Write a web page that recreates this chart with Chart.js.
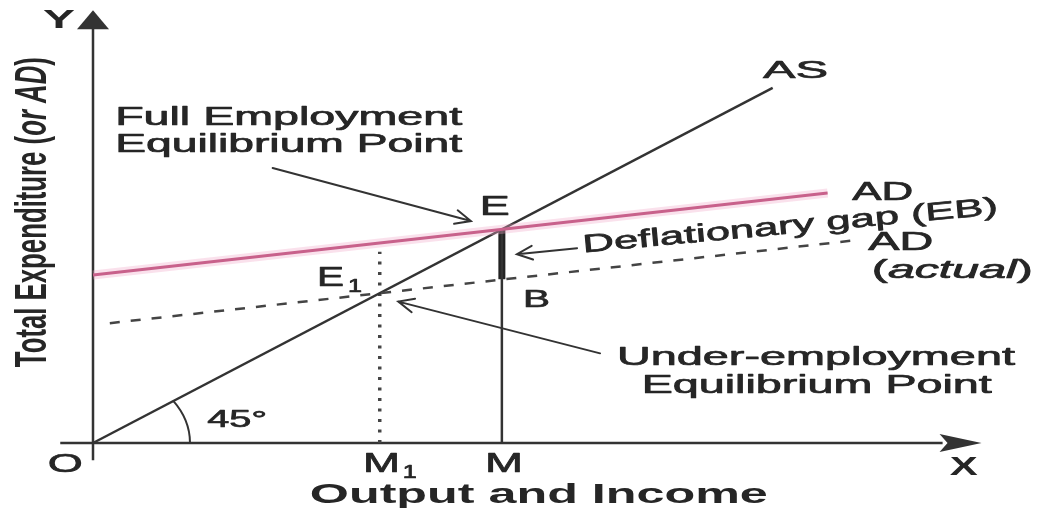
<!DOCTYPE html>
<html>
<head>
<meta charset="utf-8">
<script src="https://cdn.jsdelivr.net/npm/chart.js@4"></script>
<style>
  html, body { margin: 0; padding: 0; background: #fff; }
</style>
</head>
<body>
<canvas id="chart" width="1039" height="508"></canvas>
<script>
// deflationary gap diagram (Keynesian cross)
const asX = [0, 76.8];
const asY = [0, 41.2];
const adX = [0, 83];
const adY = [19.5, 29];
const adActualX = [1.9, 86];
const adActualY = [13.9, 23.5];
const m1X = 32.4;      // under-employment output M1
const mX = 46.2;       // full employment output M
const eY = 24.8;       // point E
const bY = 19.0;       // point B
const m1Top = 22.2;    // top of dotted guide at M1

const pts = (xs, ys) => xs.map((x, i) => ({ x, y: ys[i] }));

const FONT = '"Liberation Sans", Arial, sans-serif';
const INK = '#262626';

// text boxes: left / baseline in data units, w = drawn width in px
const labels = [
  { parts: [['Y', 'bold 25px']], x: -5.65, y: 48.1, w: 32 },
  { parts: [['O', '26px']], x: -5.1, y: -3.36, w: 35 },
  { parts: [['X', 'bold 26px']], x: 96.8, y: -3.7, w: 28 },
  { parts: [['M', '28px']], x: 30.5, y: -3.36, w: 37 },
  { parts: [['1', '18px']], x: 35.0, y: -4.06, w: 14 },
  { parts: [['M', '28px']], x: 44.3, y: -3.36, w: 38 },
  { parts: [['Output and Income', 'bold 28px']], x: 24.5, y: -6.96, w: 458 },
  { parts: [['Total Expenditure (', 'bold 44px'], ['or AD', 'italic bold 44px'], [')', 'bold 44px']],
    x: -5.3, y: 8.8, w: 310, rot: -Math.PI / 2 },
  { parts: [['Full Employment', '25px']], x: 2.5, y: 36.9, w: 347 },
  { parts: [['Equilibrium Point', '25px']], x: 2.5, y: 33.8, w: 347 },
  { parts: [['AS', '23px']], x: 75.7, y: 42.35, w: 65 },
  { parts: [['E', '28px']], x: 43.7, y: 26.45, w: 30 },
  { parts: [['AD', '25px']], x: 85.8, y: 28.2, w: 61 },
  { parts: [['Deflationary gap (EB)', '25px']], x: 55.4, y: 22.1, w: 417, rot: -0.092 },
  { parts: [['AD', '25px']], x: 87.6, y: 22.4, w: 65 },
  { parts: [['(', '25px'], ['actual', 'italic 25px'], [')', '25px']], x: 88.0, y: 19.1, w: 161 },
  { parts: [['E', '27px']], x: 25.3, y: 18.2, w: 27 },
  { parts: [['1', '18px']], x: 28.8, y: 17.5, w: 14 },
  { parts: [['B', '24px']], x: 48.6, y: 15.8, w: 27 },
  { parts: [['Under-employment', '25px']], x: 59.2, y: 9.05, w: 398 },
  { parts: [['Equilibrium Point', '25px']], x: 62.0, y: 5.8, w: 350 },
  { parts: [['45°', '24px']], x: 12.9, y: 1.86, w: 60 }
];

// pointer arrows: [fromX, fromY, toX, toY] in data units
const pointers = [
  [20.3, 31.9, 42.7, 25.75],
  [54.7, 22.6, 47.9, 21.9],
  [57.3, 10.4, 34.5, 16.4]
];

function drawLabel(ctx, sx, sy, lab) {
  let total = 0;
  lab.parts.forEach(([t, f]) => {
    ctx.font = f + ' ' + FONT;
    total += ctx.measureText(t).width;
  });
  const k = lab.w / total;
  ctx.save();
  ctx.translate(sx.getPixelForValue(lab.x), sy.getPixelForValue(lab.y));
  if (lab.rot) ctx.rotate(lab.rot);
  ctx.scale(k, 1);
  let off = 0;
  lab.parts.forEach(([t, f]) => {
    ctx.font = f + ' ' + FONT;
    ctx.fillText(t, off, 0);
    // scanned text is a bit heavier than plain regular
    if (f.indexOf('bold') < 0) ctx.strokeText(t, off, 0);
    off += ctx.measureText(t).width;
  });
  ctx.restore();
}

function arrowLine(ctx, x1, y1, x2, y2) {
  const a = Math.atan2(y2 - y1, x2 - x1);
  ctx.beginPath();
  ctx.moveTo(x1, y1);
  ctx.lineTo(x2, y2);
  ctx.moveTo(x2 - 17 * Math.cos(a - 0.42), y2 - 17 * Math.sin(a - 0.42));
  ctx.lineTo(x2, y2);
  ctx.lineTo(x2 - 17 * Math.cos(a + 0.42), y2 - 17 * Math.sin(a + 0.42));
  ctx.stroke();
}

const diagram = {
  id: 'diagram',
  beforeDatasetsDraw(chart) {
    const { ctx, scales: { x, y } } = chart;
    const ox = x.getPixelForValue(0);
    const oy = y.getPixelForValue(0);
    ctx.save();
    ctx.strokeStyle = '#333';
    ctx.fillStyle = '#333';
    ctx.lineWidth = 2.5;
    // axes
    ctx.beginPath();
    ctx.moveTo(ox, y.getPixelForValue(-2));
    ctx.lineTo(ox, y.getPixelForValue(48.5));
    ctx.moveTo(x.getPixelForValue(-3.7), oy);
    ctx.lineTo(x.getPixelForValue(96), oy);
    ctx.stroke();
    // arrow heads
    const ty = y.getPixelForValue(50.2);
    ctx.beginPath();
    ctx.moveTo(ox, ty);
    ctx.lineTo(ox - 16, ty + 19);
    ctx.lineTo(ox + 16, ty + 19);
    ctx.closePath();
    ctx.fill();
    const tx = x.getPixelForValue(100.4);
    ctx.beginPath();
    ctx.moveTo(tx, oy);
    ctx.lineTo(tx - 42, oy - 9);
    ctx.lineTo(tx - 34, oy);
    ctx.lineTo(tx - 42, oy + 9);
    ctx.closePath();
    ctx.fill();
    // 45 degree arc
    ctx.lineWidth = 2;
    ctx.beginPath();
    ctx.ellipse(ox, oy, 97, 75, 0, -0.6, 0);
    ctx.stroke();
    ctx.restore();
  },
  afterDatasetsDraw(chart) {
    const { ctx, scales: { x, y } } = chart;
    ctx.save();
    ctx.strokeStyle = '#333';
    ctx.lineWidth = 2;
    ctx.lineCap = 'round';
    pointers.forEach(p => arrowLine(ctx,
      x.getPixelForValue(p[0]), y.getPixelForValue(p[1]),
      x.getPixelForValue(p[2]), y.getPixelForValue(p[3])));
    ctx.fillStyle = INK;
    ctx.strokeStyle = INK;
    ctx.lineWidth = 0.7;
    ctx.lineJoin = 'round';
    ctx.textBaseline = 'alphabetic';
    labels.forEach(l => drawLabel(ctx, x, y, l));
    ctx.restore();
  }
};

new Chart(document.getElementById('chart'), {
  type: 'scatter',
  data: {
    datasets: [
      { data: pts(adX, adY), borderColor: 'rgba(240,170,200,0.35)', borderWidth: 9 },
      { data: pts(adX, adY), borderColor: '#b23b6b', borderWidth: 3 },
      { data: pts(adActualX, adActualY), borderColor: '#444', borderWidth: 2.5, borderDash: [10, 11] },
      { data: pts(asX, asY), borderColor: '#333', borderWidth: 2.5 },
      { data: [{ x: m1X, y: 0 }, { x: m1X, y: m1Top }], borderColor: '#444', borderWidth: 3.5, borderDash: [3, 7.5] },
      { data: [{ x: mX, y: 0 }, { x: mX, y: eY }], borderColor: '#333', borderWidth: 2.5 },
      { data: [{ x: mX, y: bY }, { x: mX, y: eY }], borderColor: '#222', borderWidth: 7 }
    ].map(d => Object.assign({ showLine: true, pointRadius: 0, clip: false, fill: false }, d))
  },
  options: {
    responsive: false,
    animation: false,
    devicePixelRatio: 1,
    layout: { padding: { left: 93, right: 61, top: 12, bottom: 65 } },
    plugins: { legend: { display: false }, tooltip: { enabled: false } },
    scales: {
      x: { type: 'linear', min: 0, max: 100, display: false },
      y: { type: 'linear', min: 0, max: 50, display: false }
    }
  },
  plugins: [diagram]
});
</script>
</body>
</html>
